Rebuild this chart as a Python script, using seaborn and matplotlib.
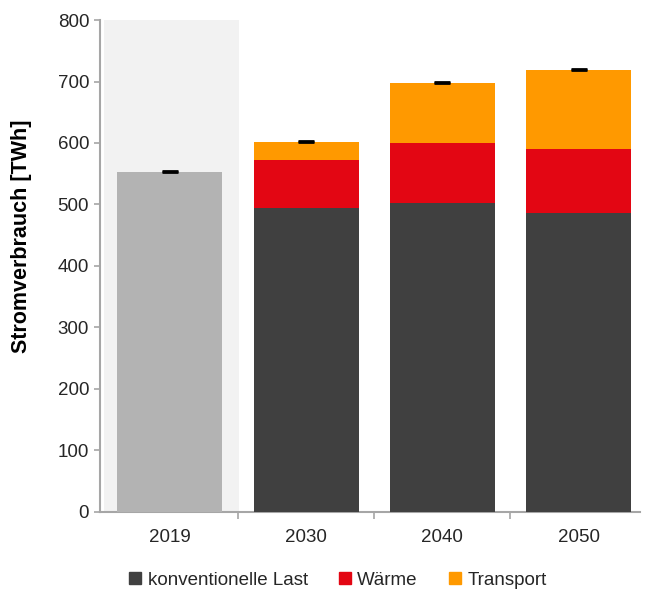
import matplotlib
matplotlib.use("Agg")
import matplotlib.pyplot as plt
from matplotlib.lines import Line2D
import seaborn as sns
import pandas as pd
import numpy as np

years = ["2019", "2030", "2040", "2050"]
konventionell = [553, 494, 502, 486]
waerme = [0, 78, 98, 105]
transport = [0, 30, 98, 128]
fehler = [1, 1, 1, 1]

sns.set_style("white")
plt.rcParams["font.family"] = ["Liberation Sans", "DejaVu Sans"]

df = pd.DataFrame({
    "Jahr": years,
    "konv": konventionell,
    "waerme": waerme,
    "transport": transport,
})
df["bis_waerme"] = df["konv"] + df["waerme"]
df["gesamt"] = df["bis_waerme"] + df["transport"]

c_konv = "#404040"
c_waerme = "#e30613"
c_trans = "#ff9900"
c_hist = "#b3b3b3"

fig = plt.figure(figsize=(6.47, 5.89), dpi=100)
ax = fig.add_axes([0.155, 0.131, 0.834, 0.835])

# shaded historical year
ax.axvspan(-0.48, 0.51, ymin=0, ymax=1, color="#f2f2f2", zorder=0, lw=0)

bw = 0.77
sns.barplot(data=df, x="Jahr", y="gesamt", color=c_trans, width=bw,
            saturation=1, ax=ax, zorder=2, linewidth=0)
sns.barplot(data=df, x="Jahr", y="bis_waerme", color=c_waerme, width=bw,
            saturation=1, ax=ax, zorder=3, linewidth=0)
sns.barplot(data=df, x="Jahr", y="konv", hue="Jahr",
            palette=[c_hist, c_konv, c_konv, c_konv], width=bw,
            saturation=1, ax=ax, zorder=4, legend=False, dodge=False,
            linewidth=0)

ax.errorbar(np.arange(len(years)), df["gesamt"], yerr=fehler, fmt="none",
            ecolor="black", elinewidth=1.2, capsize=6, capthick=2, zorder=5)

ax.set_ylim(0, 800)
ax.set_xlim(-0.51, 3.45)
ax.set_yticks(range(0, 801, 100))
ax.set_xlabel("")
ax.set_ylabel("Stromverbrauch [TWh]", fontsize=15.5, fontweight="bold",
              color="black")
ax.yaxis.set_label_coords(-0.126, 0.56)

for s in ["top", "right"]:
    ax.spines[s].set_visible(False)
for s in ["left", "bottom"]:
    ax.spines[s].set_color("#a6a6a6")
    ax.spines[s].set_linewidth(1.5)

ax.tick_params(axis="y", which="major", direction="out", length=4, width=1.2,
               color="#a6a6a6", labelsize=13.5, labelcolor="#262626", left=True,
               pad=4)
ax.tick_params(axis="x", which="major", length=0, labelsize=13.5,
               labelcolor="#262626", pad=12)
ax.set_xticks([0.5, 1.5, 2.5], minor=True)
ax.tick_params(axis="x", which="minor", direction="out", length=5, width=1.2,
               color="#a6a6a6", bottom=True)

handles = [
    Line2D([], [], marker="s", linestyle="none", markersize=8, color=c_konv),
    Line2D([], [], marker="s", linestyle="none", markersize=8, color=c_waerme),
    Line2D([], [], marker="s", linestyle="none", markersize=8, color=c_trans),
]
labels = ["konventionelle Last", "Wärme", "Transport"]
fig.legend(handles, labels, loc="center", bbox_to_anchor=(0.52, 0.015),
           ncol=3, frameon=False, fontsize=13.5, handletextpad=0.15,
           handlelength=1.0, columnspacing=1.5, labelcolor="#262626")

fig.savefig("out.png", dpi=100)
